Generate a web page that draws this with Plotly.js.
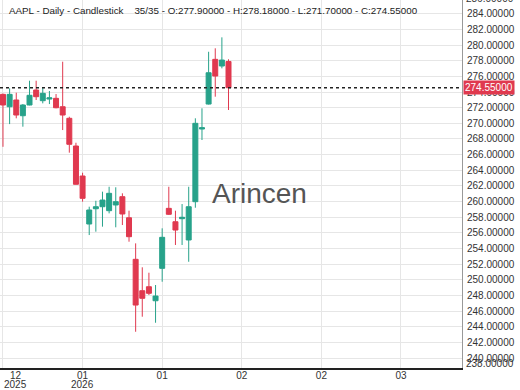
<!DOCTYPE html>
<html>
<head>
<meta charset="utf-8">
<script src="https://cdn.plot.ly/plotly-3.0.1.min.js"></script>
<style>html,body{margin:0;padding:0;background:#fff;}#chart{width:520px;height:390px;}</style>
</head>
<body>
<div id="chart"></div>
<script>
// OHLC values for the 35 daily candles (oldest first)
var openVals  = [273.70,272.12,272.98,270.97,272.34,274.25,272.89,273.10,273.19,272.12,
                 270.64,267.10,263.27,257.14,259.09,259.35,258.84,259.57,260.63,257.94,
                 252.63,248.62,249.13,247.34,251.48,259.14,257.43,257.82,255.10,259.99,
                 269.27,272.46,278.17,277.32,277.90];
var highVals  = [273.80,274.47,273.91,272.46,275.44,275.44,274.60,274.13,273.74,277.87,
                 270.84,267.52,263.69,259.35,260.11,261.27,261.90,261.83,261.06,258.84,
                 254.67,251.61,250.92,249.35,256.59,261.90,258.84,259.69,261.90,270.64,
                 271.92,279.14,279.58,280.98,278.18];
var lowVals   = [267.00,269.90,270.64,269.57,272.30,272.98,272.55,272.46,271.92,269.14,
                 266.25,262.20,259.99,255.73,256.16,256.80,258.50,256.72,257.01,254.88,
                 243.38,245.30,248.07,244.53,249.77,258.30,254.46,254.46,252.32,259.22,
                 267.87,272.40,273.40,277.02,271.70];
var closeVals = [272.34,273.70,271.06,272.34,273.58,273.40,273.83,273.25,271.99,271.06,
                 267.32,262.21,260.42,258.93,259.35,260.20,261.06,259.99,258.42,255.52,
                 246.79,247.65,248.29,247.94,255.44,258.38,256.37,258.00,259.35,270.00,
                 269.44,276.46,276.04,278.08,274.55];
// x-axis tick positions (bar index), month labels and year labels
var xTickVals = [0, 12, 24, 36, 48, 60];
var xTickText = ['12', '01', '01', '02', '02', '03'];
var xYearText = ['2025', '2026', '', '', '', ''];
// y-axis price ticks
var yTickVals = [240,242,244,246,248,250,252,254,256,258,260,262,264,266,268,270,272,274,276,278,280,282,284];

var symbol = 'AAPL', period = 'Daily', chartType = 'Candlestick', watermark = 'Arincen';

var n = closeVals.length;
var idx = closeVals.map(function (_, i) { return i; });
var last = n - 1;
var lastClose = closeVals[last];

var RED = '#e0394f', GREEN = '#27a28a';

var trace = {
  type: 'candlestick',
  x: idx, open: openVals, high: highVals, low: lowVals, close: closeVals,
  increasing: {line: {color: GREEN, width: 1}, fillcolor: GREEN},
  decreasing: {line: {color: RED, width: 1}, fillcolor: RED},
  whiskerwidth: 0,
  hoverinfo: 'skip',
  showlegend: false
};

var f = function (v) { return v.toFixed(5); };
var titleText = symbol + ' - ' + period + ' - ' + chartType + '&nbsp;&nbsp;&nbsp; ' + n + '/' + n +
  ' - O:' + f(openVals[last]) + ' - H:' + f(highVals[last]) + ' - L:' + f(lowVals[last]) + ' - C:' + f(lastClose);

var FAM = 'Liberation Sans, Arial, sans-serif';
var tickFont = {family: FAM, size: 10, color: '#333'};

var annotations = [
  {xref: 'paper', yref: 'paper', x: 0, y: 1, xanchor: 'left', yanchor: 'top',
   xshift: 7, yshift: -3, text: titleText, showarrow: false,
   font: {family: FAM, size: 9.8, color: '#222'}},
  {xref: 'paper', yref: 'paper', x: 0.5625, y: 0.475, xanchor: 'center', yanchor: 'middle',
   text: watermark, showarrow: false,
   font: {family: FAM, size: 28, color: '#555'}},
  {xref: 'paper', yref: 'y', x: 1, y: lastClose, xanchor: 'left', yanchor: 'middle',
   xshift: 1, text: f(lastClose), showarrow: false, bgcolor: RED, borderpad: 1,
   font: {family: FAM, size: 10, color: '#fff'}},
  {xref: 'paper', yref: 'paper', x: 1, y: 1, xanchor: 'left', yanchor: 'middle',
   xshift: 2, yshift: 2, text: f(286), showarrow: false, font: tickFont},
  {xref: 'paper', yref: 'paper', x: 1, y: 0, xanchor: 'left', yanchor: 'middle',
   xshift: 2, yshift: 5, text: f(238), showarrow: false, font: tickFont},
  // first month label, kept inside the picture
  {xref: 'x', yref: 'paper', x: xTickVals[0], y: 0, xanchor: 'left', yanchor: 'middle',
   xshift: 5, yshift: -7, text: xTickText[0], showarrow: false, font: tickFont}
];
xYearText.forEach(function (t, i) {
  if (!t) return;
  annotations.push({xref: 'x', yref: 'paper', x: xTickVals[i], y: 0,
    xanchor: i === 0 ? 'left' : 'center', yanchor: 'middle', xshift: i === 0 ? -1 : 0,
    yshift: -16, text: t, showarrow: false, font: tickFont});
});

var layout = {
  width: 520, height: 390,
  margin: {l: 0, r: 58, t: 0, b: 22, pad: 0},
  paper_bgcolor: '#fff', plot_bgcolor: '#fff',
  boxgap: 0.25, boxgroupgap: 0,
  xaxis: {
    type: 'linear', range: [-0.45, 69.2],
    tickmode: 'array', tickvals: xTickVals,
    ticktext: [''].concat(xTickText.slice(1)),
    tickfont: tickFont, ticks: '', ticklabelstandoff: -3,
    showgrid: true, gridcolor: '#e6e6e6', gridwidth: 1,
    zeroline: false, showline: true, linecolor: '#222', linewidth: 1.5,
    rangeslider: {visible: false}, fixedrange: true
  },
  yaxis: {
    side: 'right', range: [238.75, 285.75],
    tickmode: 'array', tickvals: yTickVals,
    ticktext: yTickVals.map(f),
    tickfont: tickFont, ticks: '', ticklabelstandoff: 2,
    showgrid: true, gridcolor: '#e6e6e6', gridwidth: 1,
    zeroline: false, showline: true, linecolor: '#999', linewidth: 1, mirror: false,
    fixedrange: true
  },
  shapes: [{
    type: 'line', xref: 'paper', x0: 0, x1: 1, yref: 'y', y0: lastClose, y1: lastClose,
    line: {color: '#222', width: 1.5, dash: 'dot'}
  }],
  annotations: annotations
};

Plotly.newPlot('chart', [trace], layout, {displayModeBar: false, staticPlot: true});
</script>
</body>
</html>
